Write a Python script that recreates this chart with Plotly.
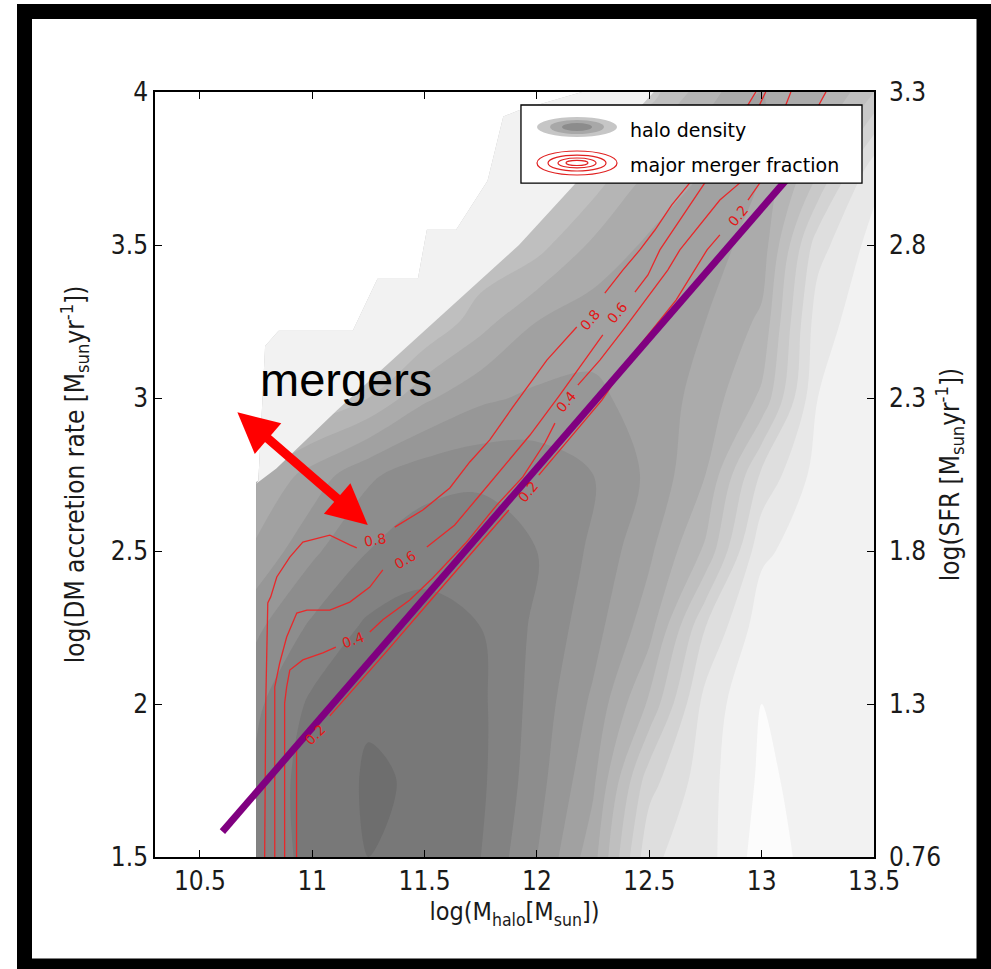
import plotly.graph_objects as go

# ---------------- data ----------------
# halo density shown as grey brightness (0=black, 255=white) on a grid
grid_x = [10.75, 11.0, 11.25, 11.5, 11.75, 12.0, 12.25, 12.5, 12.75, 13.0, 13.25, 13.5]
grid_y = [1.5, 1.75, 2.0, 2.25, 2.5, 2.75, 3.0, 3.25, 3.5, 3.75, 4.0]
density = [
    [138, 126, 120, 122, 130, 150, 176, 228, 236, 255, 246, 246],
    [138, 125, 119, 121, 128, 146, 168, 216, 236, 252, 246, 246],
    [142, 128, 121, 122, 128, 144, 162, 192, 234, 250, 246, 246],
    [152, 138, 128, 126, 130, 142, 156, 176, 220, 246, 246, 246],
    [168, 152, 140, 134, 134, 140, 152, 168, 192, 238, 246, 246],
    [180, 166, 152, 144, 142, 144, 150, 162, 180, 222, 244, 246],
    [200, 200, 190, 172, 162, 158, 158, 164, 174, 192, 240, 246],
    [200, 200, 200, 200, 184, 170, 164, 164, 170, 182, 236, 246],
    [200, 200, 200, 200, 200, 194, 178, 168, 166, 174, 226, 244],
    [200, 200, 200, 200, 200, 200, 198, 180, 170, 170, 198, 236],
    [200, 200, 200, 200, 200, 200, 200, 204, 184, 170, 176, 200],
]

# outer (lightest) density edge, stepped
light_edge_x = [10.76, 10.79, 10.85, 11.18, 11.29, 11.47, 11.51, 11.64, 11.78, 11.85, 11.92, 12.2]
light_edge_y = [2.73, 3.17, 3.22, 3.22, 3.39, 3.39, 3.55, 3.55, 3.71, 3.92, 3.94, 4.0]
# upper-left edge of the dense band
band_edge_x = [12.52, 12.37, 12.22, 12.07, 11.92, 11.47, 11.11, 10.84, 10.75]
band_edge_y = [4.0, 3.88, 3.74, 3.62, 3.5, 3.2, 2.96, 2.77, 2.72]

# major merger fraction contours (None = gap for the label)
mm08_x = [10.788, 10.793, 10.802, 10.815, 10.842, 10.900, 10.958, 11.078, 11.167, 11.198, None,
          11.367, 11.492, 11.612, 11.701, 11.790, 11.893, 12.044, 12.177, None,
          12.302, 12.382, 12.458, 12.525, 12.600, 12.680, 12.925, 12.974]
mm08_y = [1.5, 2.003, 2.330, 2.350, 2.415, 2.480, 2.529, 2.552, 2.520, 2.510, None,
          2.578, 2.634, 2.706, 2.791, 2.863, 2.971, 3.124, 3.232, None,
          3.343, 3.418, 3.484, 3.549, 3.631, 3.703, 3.941, 4.0]
mm06_x = [10.833, 10.833, 10.855, 10.886, 10.931, 10.976, 11.078, 11.167, 11.256, 11.314, None,
          11.510, 11.634, 11.746, 11.857, 11.969, 12.102, 12.213, 12.293, None,
          12.436, 12.494, 12.547, 12.614, 12.680, 12.747, 12.969, 13.018]
mm06_y = [1.5, 2.056, 2.134, 2.219, 2.297, 2.307, 2.307, 2.333, 2.382, 2.438, None,
          2.513, 2.585, 2.683, 2.781, 2.879, 3.010, 3.124, 3.206, None,
          3.346, 3.402, 3.484, 3.556, 3.631, 3.703, 3.925, 4.0]
mm04_x = [10.877, 10.877, 10.886, 10.900, 10.958, 11.047, 11.105, None,
          11.256, 11.314, 11.434, 11.536, 11.683, 11.821, 11.937, 12.035, 12.080, None,
          12.182, 12.280, 12.391, 12.502, 12.582, 12.636, 12.725, 12.814, 12.903, 13.081, 13.130]
mm04_y = [1.5, 2.003, 2.056, 2.111, 2.144, 2.167, 2.186, None,
          2.235, 2.275, 2.340, 2.412, 2.526, 2.650, 2.742, 2.853, 2.918, None,
          3.042, 3.124, 3.229, 3.337, 3.418, 3.484, 3.565, 3.647, 3.703, 3.908, 4.0]
mm02_x = [10.930, 10.930, None,
          11.078, 11.180, 11.336, 11.528, 11.719, 11.875, None,
          12.008, 12.102, 12.289, 12.441, 12.619, 12.757, 12.814, None,
          12.939, 12.992, 13.170, 13.286]
mm02_y = [1.5, 1.850, None,
          1.961, 2.046, 2.176, 2.340, 2.503, 2.634, None,
          2.748, 2.830, 2.993, 3.157, 3.320, 3.484, 3.533, None,
          3.647, 3.703, 3.843, 4.0]

label_text = ["0.8", "0.6", "0.4", "0.2", "0.8", "0.6", "0.4", "0.2", "0.2"]
label_x = [11.278, 11.412, 11.181, 11.011, 12.236, 12.356, 12.128, 11.959, 12.894]
label_y = [2.536, 2.471, 2.209, 1.899, 3.255, 3.278, 2.987, 2.693, 3.595]
label_angle = [-10, -30, -20, -45, -50, -50, -50, -50, -50]

# fitted relation (purple line)
fit_x = [10.6, 13.33]
fit_y = [1.583, 3.90]

# "mergers" arrow (two ends)
arrow_x = [10.660, 11.247]
arrow_y = [2.958, 2.585]

x_ticks = [10.5, 11, 11.5, 12, 12.5, 13, 13.5]
x_ticktext = ["10.5", "11", "11.5", "12", "12.5", "13", "13.5"]
y_ticks = [1.5, 2, 2.5, 3, 3.5, 4]
y_ticktext = ["1.5", "2", "2.5", "3", "3.5", "4"]
y2_ticktext = ["0.76", "1.3", "1.8", "2.3", "2.8", "3.3"]

# ---------------- figure ----------------
NARROW = "Liberation Sans Narrow, Arial Narrow, DejaVu Sans Condensed, sans-serif"
fig = go.Figure()

fig.add_trace(go.Contour(
    x=grid_x, y=grid_y, z=density,
    colorscale=[[0, "rgb(100,100,100)"], [1, "rgb(252,252,252)"]],
    contours=dict(start=110, end=250, size=10, coloring="fill", showlines=False),
    line=dict(width=0), showscale=False, hoverinfo="skip",
))

# white area beyond the outer stepped edge
fig.add_trace(go.Scatter(
    x=[10.74] + light_edge_x + [10.74], y=[2.72] + light_edge_y + [4.0],
    fill="toself", fillcolor="white", mode="lines", line=dict(width=0),
    showlegend=False, hoverinfo="skip"))
# lightest level between outer edge and the band
fig.add_trace(go.Scatter(
    x=light_edge_x + band_edge_x, y=light_edge_y + band_edge_y,
    fill="toself", fillcolor="#f2f2f2", mode="lines", line=dict(width=0),
    showlegend=False, hoverinfo="skip"))

for xs, ys in [(mm08_x, mm08_y), (mm06_x, mm06_y), (mm04_x, mm04_y), (mm02_x, mm02_y)]:
    fig.add_trace(go.Scatter(x=xs, y=ys, mode="lines", connectgaps=False,
                             line=dict(color="#e8282a", width=1.3),
                             showlegend=False, hoverinfo="skip"))

fig.add_trace(go.Scatter(x=fit_x, y=fit_y, mode="lines",
                         line=dict(color="#800080", width=7),
                         showlegend=False, hoverinfo="skip"))

# right axis carrier
fig.add_trace(go.Scatter(x=[10.3], y=[1.5], yaxis="y2", mode="markers",
                         marker=dict(opacity=0), showlegend=False, hoverinfo="skip"))

annotations = []
for t, lx, ly, la in zip(label_text, label_x, label_y, label_angle):
    annotations.append(dict(x=lx, y=ly, xref="x", yref="y", text=t, showarrow=False,
                            textangle=la, font=dict(family="DejaVu Sans", size=14, color="#e01818")))

annotations.append(dict(x=arrow_x[1], y=arrow_y[1], ax=arrow_x[0], ay=arrow_y[0],
                        xref="x", yref="y", axref="x", ayref="y", text="",
                        showarrow=True, arrowside="end+start", arrowhead=2, startarrowhead=2,
                        arrowsize=0.9, startarrowsize=0.9, arrowwidth=9, arrowcolor="#ff0000"))
annotations.append(dict(x=11.15, y=3.059, xref="x", yref="y", text="mergers", showarrow=False,
                        font=dict(family="Liberation Sans, Arial", size=47, color="black")))

# legend texts
annotations.append(dict(x=0.6579, y=0.9503, xref="paper", yref="paper", text="halo density",
                        xanchor="left", yanchor="middle", showarrow=False,
                        font=dict(family="DejaVu Sans", size=19, color="black")))
annotations.append(dict(x=0.6579, y=0.9046, xref="paper", yref="paper", text="major merger fraction",
                        xanchor="left", yanchor="middle", showarrow=False,
                        font=dict(family="DejaVu Sans", size=19, color="black")))

shapes = [
    # outer black frame
    dict(type="rect", xref="paper", yref="paper", x0=-0.1815, x1=1.1530, y0=-0.1425, y1=1.1052,
         line=dict(color="black", width=15), fillcolor="rgba(0,0,0,0)", layer="above"),
    # legend box
    dict(type="rect", xref="paper", yref="paper", x0=0.5090, x1=0.9833, y0=0.8810, y1=0.9830,
         line=dict(color="black", width=1.3), fillcolor="white", layer="above"),
    dict(type="circle", xref="paper", yref="paper", x0=0.5313, x1=0.6426, y0=0.9412, y1=0.9673,
         line=dict(width=0), fillcolor="#c6c6c6", layer="above"),
    dict(type="circle", xref="paper", yref="paper", x0=0.5494, x1=0.6245, y0=0.9451, y1=0.9634,
         line=dict(width=0), fillcolor="#a8a8a8", layer="above"),
    dict(type="circle", xref="paper", yref="paper", x0=0.5661, x1=0.6078, y0=0.9490, y1=0.9595,
         line=dict(width=0), fillcolor="#8c8c8c", layer="above"),
]
for (x0, x1, y0, y1) in [(0.5313, 0.6426, 0.8915, 0.9229), (0.5466, 0.6273, 0.8967, 0.9176),
                         (0.5605, 0.6134, 0.9007, 0.9137), (0.5716, 0.6022, 0.9039, 0.9105)]:
    shapes.append(dict(type="circle", xref="paper", yref="paper", x0=x0, x1=x1, y0=y0, y1=y1,
                       line=dict(color="#e02020", width=1.2), fillcolor="rgba(0,0,0,0)", layer="above"))

tickfont = dict(family=NARROW, size=26, color="#1a1a1a")
xtitlefont = dict(family=NARROW, size=25, color="#1a1a1a")
ytitlefont = dict(family=NARROW, size=26, color="#1a1a1a")

fig.update_layout(
    width=991, height=969,
    margin=dict(l=155, r=117, t=92, b=112),
    paper_bgcolor="white", plot_bgcolor="white",
    showlegend=False,
    xaxis=dict(range=[10.3, 13.5], tickvals=x_ticks, ticktext=x_ticktext,
               ticks="inside", ticklen=7, tickwidth=1.3, tickcolor="black",
               showline=True, linecolor="black", linewidth=1.5, mirror="ticks",
               showgrid=False, zeroline=False, tickfont=tickfont,
               title=dict(text="log(M<sub>halo</sub>[M<sub>sun</sub>])", font=xtitlefont, standoff=8)),
    yaxis=dict(range=[1.5, 4], tickvals=y_ticks, ticktext=y_ticktext,
               ticks="inside", ticklen=7, tickwidth=1.3, tickcolor="black",
               showline=True, linecolor="black", linewidth=1.5, mirror=True,
               showgrid=False, zeroline=False, tickfont=tickfont,
               title=dict(text="log(DM accretion rate [M<sub>sun</sub>yr<sup>-1</sup>])",
                          font=ytitlefont, standoff=19)),
    yaxis2=dict(range=[1.5, 4], tickvals=y_ticks, ticktext=y2_ticktext, overlaying="y", side="right",
                ticks="inside", ticklen=7, tickwidth=1.3, tickcolor="black", ticklabelstandoff=14,
                showline=False, showgrid=False, zeroline=False, tickfont=tickfont,
                title=dict(text="log(SFR [M<sub>sun</sub>yr<sup>-1</sup>])", font=ytitlefont, standoff=0)),
    annotations=annotations,
    shapes=shapes,
)

fig.write_html("out.html")
